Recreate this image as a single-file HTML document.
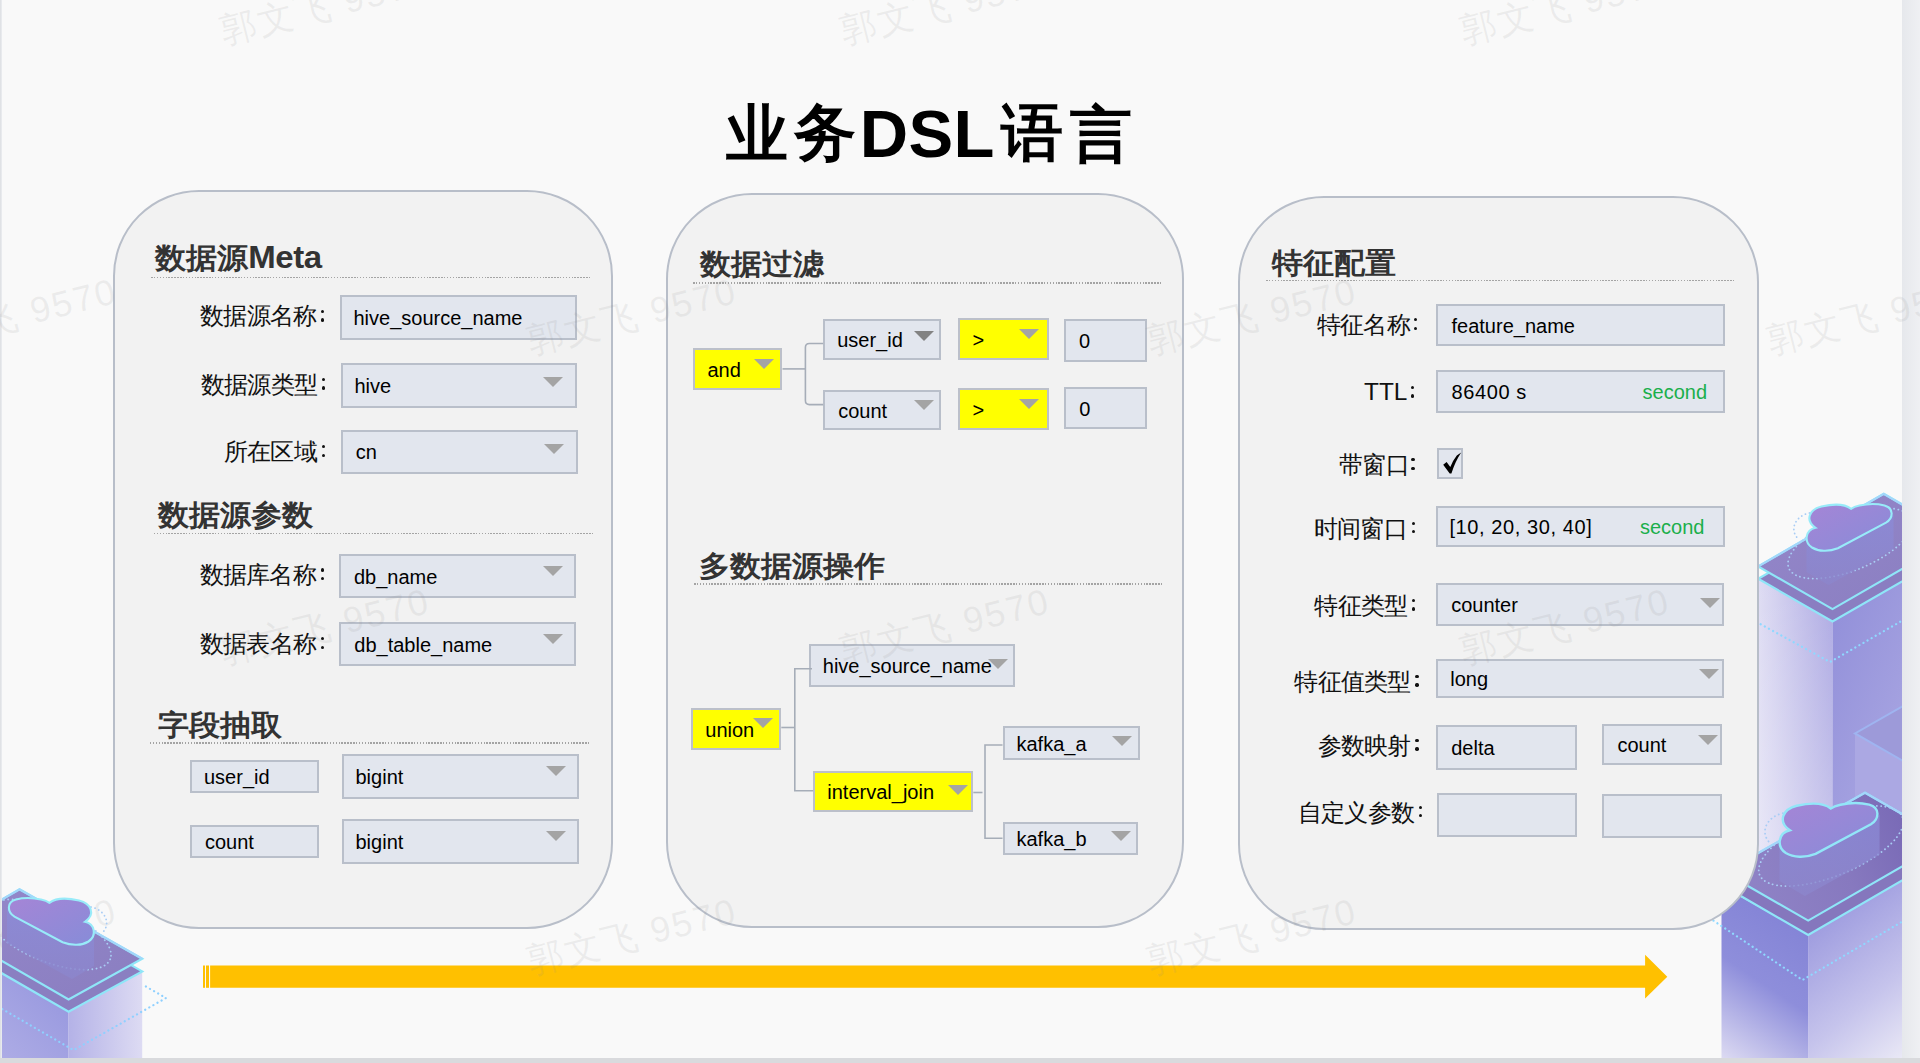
<!DOCTYPE html>
<html><head><meta charset="utf-8"><title>业务DSL语言</title>
<style>
*{margin:0;padding:0;box-sizing:border-box}
html,body{width:1920px;height:1063px;overflow:hidden;background:#f9f9f9}
body{position:relative;font-family:"Liberation Sans",sans-serif;color:#000}
.a{position:absolute}
.t{position:absolute;line-height:1;white-space:nowrap}
.pn{position:absolute;background:#f2f2f2;border:2px solid #b8bec9;border-radius:86px}
.dl{position:absolute;height:1.5px;background:repeating-linear-gradient(90deg,#a4a4a4 0 1.5px,transparent 1.5px 2.9px)}
.bx{position:absolute;background:#e2e6ee;border:2px solid #b9bfca}
.bx.y{background:#ffff00;border-color:#bcc0ca}
.tr{position:absolute;width:0;height:0;border-left:10.2px solid transparent;border-right:10.2px solid transparent;border-top:10.6px solid #a4a4a4}
.cd{position:absolute;width:3.4px;height:3.4px;border-radius:50%;background:#111}
.wm{position:absolute;font-size:36px;line-height:1;font-weight:300;letter-spacing:2px;color:rgba(140,140,140,0.12);white-space:nowrap;transform:rotate(-14deg);transform-origin:18px 50%}
</style></head><body>

<div class="a" style="left:0;top:0;width:2px;height:1063px;background:linear-gradient(90deg,#dcdee2,#eceef1)"></div>
<div class="a" style="left:0;top:0;width:1920px;height:1063px;overflow:hidden;pointer-events:none">
<div class="wm" style="left:-92.4px;top:940.0px">郭文飞 9570</div>
<div class="wm" style="left:1767.6px;top:940.0px">郭文飞 9570</div>
</div><svg class="a" style="left:0;top:0" width="1920" height="1063" viewBox="0 0 1920 1063">
<defs>
<linearGradient id="slabG" x1="0" y1="0" x2="1" y2="1"><stop offset="0" stop-color="#9487ca"/><stop offset="1" stop-color="#8a7ec0"/></linearGradient>
<linearGradient id="cloudG" x1="0" y1="0" x2="1" y2="1"><stop offset="0" stop-color="#a585d6"/><stop offset="1" stop-color="#878cd8"/></linearGradient>
<linearGradient id="cloudGR" x1="1" y1="0" x2="0" y2="1"><stop offset="0" stop-color="#a585d6"/><stop offset="1" stop-color="#878cd8"/></linearGradient>
<linearGradient id="extG" x1="0" y1="0" x2="0" y2="1"><stop offset="0" stop-color="#8b8bd8"/><stop offset="1" stop-color="#8c86cc"/></linearGradient>
<linearGradient id="lLeft" x1="1" y1="0" x2="0" y2="1"><stop offset="0" stop-color="#8f90dc"/><stop offset="1" stop-color="#b6b4e8"/></linearGradient>
<linearGradient id="lRight" x1="0" y1="0" x2="1" y2="0"><stop offset="0" stop-color="#b4b2e7"/><stop offset="1" stop-color="#dddbf3"/></linearGradient>
<linearGradient id="t1Left" x1="0" y1="0" x2="1" y2="0"><stop offset="0" stop-color="#dedcf3"/><stop offset="1" stop-color="#aeaae3"/></linearGradient>
<linearGradient id="t1LeftV" x1="0" y1="0" x2="0" y2="1"><stop offset="0" stop-color="#ffffff" stop-opacity="0"/><stop offset="1" stop-color="#ffffff" stop-opacity="0.55"/></linearGradient>
<linearGradient id="t1Right" x1="0" y1="0" x2="0.6" y2="1"><stop offset="0" stop-color="#8e8cd8"/><stop offset="1" stop-color="#bdb9e9"/></linearGradient>
<linearGradient id="t2Left" gradientUnits="userSpaceOnUse" x1="1808" y1="930" x2="1722" y2="1058"><stop offset="0" stop-color="#8484d6"/><stop offset="0.45" stop-color="#8e8edb"/><stop offset="1" stop-color="#dcdaf2"/></linearGradient><linearGradient id="slabT2" gradientUnits="userSpaceOnUse" x1="1740" y1="880" x2="1900" y2="820"><stop offset="0" stop-color="#8f83c6"/><stop offset="0.6" stop-color="#8779bf"/><stop offset="1" stop-color="#7a6bb7"/></linearGradient>
<linearGradient id="t2Right" gradientUnits="userSpaceOnUse" x1="1808" y1="940" x2="1905" y2="1060"><stop offset="0" stop-color="#a19fe0"/><stop offset="0.55" stop-color="#c6c4ec"/><stop offset="1" stop-color="#ebeaf6"/></linearGradient>
<clipPath id="clipL"><rect x="2" y="0" width="300" height="1058"/></clipPath>
<clipPath id="clipR"><rect x="1600" y="0" width="302" height="1058"/></clipPath>

</defs>
<g clip-path="url(#clipL)">
  <!-- body -->
  <polygon points="-51.4,942.6 68.6,1011.8 68.6,1060 -51.4,1060" fill="url(#lLeft)"/>
  <polygon points="68.6,1011.2 142.2,971.4 142.2,1060 68.6,1060" fill="url(#lRight)"/>
  <!-- dotted diamond on body -->
  <polyline points="-10,1002 73.6,1050.1 166,998 145,986" fill="none" stroke="#8fd0ff" stroke-width="2.2" stroke-dasharray="0.1 4.6" stroke-linecap="round"/>
  <!-- slab 2 -->
  <polygon points="19.5,901.7 142.2,971.4 68.6,1011.8 -51.4,942.6" fill="#8a7fc1" stroke="#8fe6f8" stroke-width="2.2"/>
  <!-- slab 1 -->
  <polygon points="19.5,889.3 142.2,958.7 68.6,999.4 -51.4,930.2" fill="url(#slabG)" stroke="#8fe6f8" stroke-width="2.2"/>
  <path d="M-51.4 930.2 L19.5 889.3 L142.2 958.7" fill="none" stroke="#a3d6fb" stroke-width="2"/>
  <!-- dotted ellipse on slab -->
  <ellipse cx="49" cy="934.5" rx="66" ry="27" transform="rotate(22 49 934.5)" fill="none" stroke="#a9cdf5" stroke-width="1.8" stroke-dasharray="0.1 4.2" stroke-linecap="round"/>
  <!-- cloud extrusion -->
  <path d="M7 908 L14.5 916.6 L62.6 942.3 C72 946 82 945.5 88.5 941.5 L94 934 L94 966 L72 979 L7 943 Z" fill="url(#extG)" opacity="0.8"/>
  <!-- small dotted circle beside cloud -->
  <path d="M91 907 C106 910 112 925 101 934" fill="none" stroke="#a9cdf5" stroke-width="1.8" stroke-dasharray="0.1 4" stroke-linecap="round"/>
  <!-- cloud top -->
  <path d="M14.5 916.6 C7 912 6.5 902 16 899.5 C24 897.5 34 898 41 899.6 C45 900.5 47.5 901.5 49.4 902.8 C55 898.5 66 897.5 79 900.5 C91 903.5 96 914 85 921.8 C95 924 97 936 88.5 941.5 C82 945.5 72 946 62.6 942.3 Z" fill="url(#cloudG)" stroke="#98ebf9" stroke-width="2.1"/>
</g>
<g clip-path="url(#clipR)">
  <!-- T1 body -->
  <polygon points="1759,578.9 1832.5,621.5 1832.5,1060 1759,1060" fill="url(#t1Left)"/>
  <polygon points="1759,578.9 1832.5,621.5 1832.5,1060 1759,1060" fill="url(#t1LeftV)"/>
  <polygon points="1832.5,621.5 1960,548 1960,1060 1832.5,1060" fill="url(#t1Right)"/>
  <!-- small cube -->
  <polygon points="1855,733.4 1905,704.5 1905,1060 1855,1060" fill="#aba8e3"/>
  <polygon points="1855,733.4 1905,704.5 1905,762 " fill="#9d9ad9"/>
  <path d="M1905 705 L1855 733.4 L1905 762" fill="none" stroke="#9fb4f0" stroke-width="2"/>
  <!-- dotted V on T1 -->
  <polyline points="1740,613 1830,662 1905,619" fill="none" stroke="#8fd8ff" stroke-width="2.2" stroke-dasharray="0.1 4.6" stroke-linecap="round"/>
  <!-- T1 slab 2 -->
  <polygon points="1883.7,506.2 1958,549.1 1832.5,621.5 1758.2,578.8" fill="#8a7ec1" stroke="#8fe6f8" stroke-width="2.2"/>
  <!-- T1 slab 1 -->
  <polygon points="1883.7,493.8 1958,536.7 1832.5,609.1 1758.2,566.4" fill="url(#slabG)" stroke="#8fe6f8" stroke-width="2.2"/>
  <path d="M1758.2 566.4 L1883.7 493.8 L1958 536.7" fill="none" stroke="#a3d6fb" stroke-width="2"/>
  <ellipse cx="1850" cy="543.4" rx="66" ry="27" transform="rotate(-22 1850 543.4)" fill="none" stroke="#a9cdf5" stroke-width="1.8" stroke-dasharray="0.1 4.2" stroke-linecap="round"/>
  <g transform="translate(1900.5,-394) scale(-1,1)">
    <path d="M7 908 L14.5 916.6 L62.6 942.3 C72 946 82 945.5 88.5 941.5 L94 934 L94 966 L72 979 L7 943 Z" fill="url(#extG)" opacity="0.75"/>
    <path d="M91 907 C106 910 112 925 101 934" fill="none" stroke="#a9cdf5" stroke-width="1.8" stroke-dasharray="0.1 4" stroke-linecap="round"/>
    <path d="M14.5 916.6 C7 912 6.5 902 16 899.5 C24 897.5 34 898 41 899.6 C45 900.5 47.5 901.5 49.4 902.8 C55 898.5 66 897.5 79 900.5 C91 903.5 96 914 85 921.8 C95 924 97 936 88.5 941.5 C82 945.5 72 946 62.6 942.3 Z" fill="url(#cloudGR)" stroke="#98ebf9" stroke-width="2.1"/>
  </g>
  <!-- T2 body -->
  <polygon points="1721.5,886 1808.2,935 1808.2,1060 1721.5,1060" fill="url(#t2Left)"/>
  <polygon points="1808.2,935 1960,847 1960,1060 1808.2,1060" fill="url(#t2Right)"/>
  <polyline points="1690,905 1802.5,980 1905,920" fill="none" stroke="#8fd8ff" stroke-width="2.2" stroke-dasharray="0.1 4.6" stroke-linecap="round"/>
  <!-- T2 slab 2 -->
  <polygon points="1865,806.7 1947.5,854.2 1808.2,935 1724,886.3" fill="#8577bd" stroke="#8fe6f8" stroke-width="2.2"/>
  <!-- T2 slab 1 -->
  <polygon points="1865,792.7 1947.5,840.2 1808.2,920.6 1724,872.3" fill="url(#slabT2)" stroke="#8fe6f8" stroke-width="2.2"/>
  <path d="M1724 872.3 L1865 792.7 L1947.5 840.2" fill="none" stroke="#a3d6fb" stroke-width="2"/>
  <ellipse cx="1831" cy="846" rx="77" ry="30" transform="rotate(-22 1831 846)" fill="none" stroke="#a9cdf5" stroke-width="1.8" stroke-dasharray="0.1 4.2" stroke-linecap="round"/>
  <g transform="translate(1887.6,-229.8) scale(-1.15,1.15)">
    <path d="M7 908 L14.5 916.6 L62.6 942.3 C72 946 82 945.5 88.5 941.5 L94 934 L94 966 L72 979 L7 943 Z" fill="url(#extG)" opacity="0.75"/>
    <path d="M91 907 C106 910 112 925 101 934" fill="none" stroke="#a9cdf5" stroke-width="1.6" stroke-dasharray="0.1 3.6" stroke-linecap="round"/>
    <path d="M14.5 916.6 C7 912 6.5 902 16 899.5 C24 897.5 34 898 41 899.6 C45 900.5 47.5 901.5 49.4 902.8 C55 898.5 66 897.5 79 900.5 C91 903.5 96 914 85 921.8 C95 924 97 936 88.5 941.5 C82 945.5 72 946 62.6 942.3 Z" fill="url(#cloudGR)" stroke="#92e6f8" stroke-width="2.1"/>
  </g>
</g>
</svg>

<div class="a" style="left:1902px;top:0;width:18px;height:1063px;background:linear-gradient(90deg,#e6e8ec,#eff0f3)"></div>
<div class="a" style="left:0;top:1058px;width:1920px;height:5px;background:#d9dadd"></div>
<div class="pn" style="left:113.30px;top:189.50px;width:500.20px;height:739.00px"></div>
<div class="pn" style="left:665.50px;top:193.40px;width:518.60px;height:735.10px"></div>
<div class="pn" style="left:1238.20px;top:195.50px;width:520.80px;height:734.90px"></div>
<div class="dl" style="left:151.0px;top:276.5px;width:439.0px"></div>
<div class="dl" style="left:154.0px;top:532.5px;width:438.5px"></div>
<div class="dl" style="left:150.0px;top:742.2px;width:439.0px"></div>
<div class="dl" style="left:693.4px;top:282.0px;width:469.1px"></div>
<div class="dl" style="left:693.5px;top:583.1px;width:469.2px"></div>
<div class="dl" style="left:1265.6px;top:279.5px;width:470.3px"></div>
<div class="bx" style="left:340.3px;top:295.4px;width:236.4px;height:44.4px"></div>
<div class="bx" style="left:340.7px;top:363.4px;width:236.3px;height:44.6px"></div>
<div class="tr" style="left:543.20px;top:376.90px"></div>
<div class="bx" style="left:341.3px;top:429.6px;width:236.3px;height:44.6px"></div>
<div class="tr" style="left:544.00px;top:444.10px"></div>
<div class="bx" style="left:339.0px;top:554.0px;width:236.8px;height:44.0px"></div>
<div class="tr" style="left:542.50px;top:566.00px"></div>
<div class="bx" style="left:339.0px;top:622.0px;width:237.0px;height:44.0px"></div>
<div class="tr" style="left:543.00px;top:633.75px"></div>
<div class="bx" style="left:190.0px;top:760.0px;width:129.0px;height:32.5px"></div>
<div class="bx" style="left:342.0px;top:754.0px;width:237.0px;height:44.5px"></div>
<div class="tr" style="left:545.50px;top:765.75px"></div>
<div class="bx" style="left:190.0px;top:825.0px;width:129.0px;height:33.0px"></div>
<div class="bx" style="left:342.0px;top:819.0px;width:237.0px;height:44.5px"></div>
<div class="tr" style="left:545.50px;top:830.75px"></div>
<div class="bx y" style="left:692.8px;top:348.1px;width:89.7px;height:42.0px"></div>
<div class="tr" style="left:753.60px;top:359.00px"></div>
<div class="bx" style="left:823.2px;top:319.4px;width:118.3px;height:40.8px"></div>
<div class="tr" style="left:913.80px;top:330.60px;border-top-color:#838383"></div>
<div class="bx y" style="left:958.1px;top:317.6px;width:90.6px;height:42.8px"></div>
<div class="tr" style="left:1019.00px;top:328.90px"></div>
<div class="bx" style="left:1063.9px;top:319.3px;width:83.1px;height:42.5px"></div>
<div class="bx" style="left:823.2px;top:390.1px;width:118.3px;height:40.4px"></div>
<div class="tr" style="left:913.80px;top:400.30px"></div>
<div class="bx y" style="left:958.1px;top:388.2px;width:90.6px;height:42.3px"></div>
<div class="tr" style="left:1019.00px;top:398.50px"></div>
<div class="bx" style="left:1064.2px;top:387.1px;width:83.3px;height:42.3px"></div>
<div class="bx y" style="left:691.3px;top:708.3px;width:90.0px;height:41.7px"></div>
<div class="tr" style="left:752.50px;top:718.00px"></div>
<div class="bx" style="left:808.8px;top:644.3px;width:206.2px;height:43.2px"></div>
<div class="tr" style="left:987.50px;top:658.75px"></div>
<div class="bx y" style="left:813.3px;top:770.5px;width:160.0px;height:41.5px"></div>
<div class="tr" style="left:947.50px;top:784.50px"></div>
<div class="bx" style="left:1002.5px;top:726.3px;width:137.0px;height:33.7px"></div>
<div class="tr" style="left:1111.75px;top:735.75px"></div>
<div class="bx" style="left:1002.5px;top:821.8px;width:135.5px;height:33.7px"></div>
<div class="tr" style="left:1110.50px;top:831.25px"></div>
<div class="bx" style="left:1436.2px;top:304.0px;width:289.1px;height:42.2px"></div>
<div class="bx" style="left:1436.2px;top:370.3px;width:289.1px;height:42.7px"></div>
<div class="bx" style="left:1437.2px;top:448.2px;width:25.8px;height:30.5px"></div>
<div class="bx" style="left:1436.2px;top:506.3px;width:289.1px;height:40.4px"></div>
<div class="bx" style="left:1436.2px;top:583.2px;width:287.8px;height:42.7px"></div>
<div class="tr" style="left:1699.70px;top:597.70px"></div>
<div class="bx" style="left:1436.2px;top:658.8px;width:287.8px;height:39.0px"></div>
<div class="tr" style="left:1699.00px;top:668.80px"></div>
<div class="bx" style="left:1436.2px;top:725.4px;width:140.7px;height:44.3px"></div>
<div class="bx" style="left:1602.0px;top:724.1px;width:120.3px;height:40.9px"></div>
<div class="tr" style="left:1697.60px;top:734.70px"></div>
<div class="bx" style="left:1436.8px;top:793.2px;width:140.6px;height:44.2px"></div>
<div class="bx" style="left:1602.0px;top:794.0px;width:120.3px;height:44.2px"></div>
<div class="t" style="left:725.8px;top:103.2px;font-size:61.5px;font-weight:bold;color:#000;">业</div>
<div class="t" style="left:793.5px;top:101.6px;font-size:61.5px;font-weight:bold;color:#000;">务</div>
<div class="t" style="left:859.8px;top:100.0px;font-size:67px;font-weight:bold;color:#000;letter-spacing:0.3px">DSL</div>
<div class="t" style="left:1001.2px;top:102.3px;font-size:61.5px;font-weight:bold;color:#000;">语</div>
<div class="t" style="left:1069.6px;top:104.3px;font-size:61.5px;font-weight:bold;color:#000;">言</div>
<div class="t" style="left:155.2px;top:241.5px;font-size:31px;font-weight:bold;color:#333;transform:scaleY(0.935);transform-origin:0 0;">数据源<span style='font-size:33px;letter-spacing:-0.4px'>Meta</span></div>
<div class="t" style="left:158.0px;top:501.0px;font-size:31px;font-weight:bold;color:#333;transform:scaleY(0.935);transform-origin:0 0;">数据源参数</div>
<div class="t" style="left:158.0px;top:711.0px;font-size:31px;font-weight:bold;color:#333;transform:scaleY(0.935);transform-origin:0 0;">字段抽取</div>
<div class="t" style="left:700.0px;top:250.0px;font-size:31px;font-weight:bold;color:#333;transform:scaleY(0.935);transform-origin:0 0;">数据过滤</div>
<div class="t" style="left:699.0px;top:551.5px;font-size:31px;font-weight:bold;color:#333;transform:scaleY(0.935);transform-origin:0 0;">多数据源操作</div>
<div class="t" style="left:1272.0px;top:249.3px;font-size:31px;font-weight:bold;color:#333;transform:scaleY(0.935);transform-origin:0 0;">特征配置</div>
<div class="t" style="left:200.0px;top:303.8px;font-size:24px;color:#111;letter-spacing:-0.7px;">数据源名称</div>
<div class="t" style="left:200.8px;top:373.0px;font-size:24px;color:#111;letter-spacing:-0.7px;">数据源类型</div>
<div class="t" style="left:223.8px;top:440.0px;font-size:24px;color:#111;letter-spacing:-0.7px;">所在区域</div>
<div class="t" style="left:199.5px;top:563.3px;font-size:24px;color:#111;letter-spacing:-0.7px;">数据库名称</div>
<div class="t" style="left:199.8px;top:632.1px;font-size:24px;color:#111;letter-spacing:-0.7px;">数据表名称</div>
<div class="t" style="left:1316.9px;top:313.3px;font-size:24px;color:#111;letter-spacing:-0.7px;">特征名称</div>
<div class="t" style="left:1364.0px;top:380.3px;font-size:24.4px;color:#111;">TTL</div>
<div class="t" style="left:1339.0px;top:453.4px;font-size:24px;color:#111;letter-spacing:-0.7px;">带窗口</div>
<div class="t" style="left:1313.8px;top:516.7px;font-size:24px;color:#111;letter-spacing:-0.7px;">时间窗口</div>
<div class="t" style="left:1314.3px;top:593.7px;font-size:24px;color:#111;letter-spacing:-0.7px;">特征类型</div>
<div class="t" style="left:1294.3px;top:670.4px;font-size:24px;color:#111;letter-spacing:-0.7px;">特征值类型</div>
<div class="t" style="left:1317.6px;top:734.3px;font-size:24px;color:#111;letter-spacing:-0.7px;">参数映射</div>
<div class="t" style="left:1297.7px;top:800.7px;font-size:24px;color:#111;letter-spacing:-0.7px;">自定义参数</div>
<div class="t" style="left:353.5px;top:308.1px;font-size:20px;color:#000;">hive_source_name</div>
<div class="t" style="left:354.4px;top:376.2px;font-size:20px;color:#000;">hive</div>
<div class="t" style="left:355.8px;top:442.4px;font-size:20px;color:#000;">cn</div>
<div class="t" style="left:354.0px;top:566.5px;font-size:20px;color:#000;">db_name</div>
<div class="t" style="left:354.3px;top:634.5px;font-size:20px;color:#000;">db_table_name</div>
<div class="t" style="left:204.0px;top:766.8px;font-size:20px;color:#000;">user_id</div>
<div class="t" style="left:355.5px;top:766.8px;font-size:20px;color:#000;">bigint</div>
<div class="t" style="left:205.0px;top:832.0px;font-size:20px;color:#000;">count</div>
<div class="t" style="left:355.5px;top:831.8px;font-size:20px;color:#000;">bigint</div>
<div class="t" style="left:707.4px;top:359.6px;font-size:20px;color:#000;">and</div>
<div class="t" style="left:837.2px;top:330.3px;font-size:20px;color:#000;">user_id</div>
<div class="t" style="left:972.4px;top:329.5px;font-size:20px;color:#000;">&gt;</div>
<div class="t" style="left:1079.0px;top:331.1px;font-size:20px;color:#000;">0</div>
<div class="t" style="left:838.2px;top:400.8px;font-size:20px;color:#000;">count</div>
<div class="t" style="left:972.4px;top:399.9px;font-size:20px;color:#000;">&gt;</div>
<div class="t" style="left:1079.3px;top:398.8px;font-size:20px;color:#000;">0</div>
<div class="t" style="left:705.3px;top:719.6px;font-size:20px;color:#000;">union</div>
<div class="t" style="left:822.8px;top:656.4px;font-size:20px;color:#000;">hive_source_name</div>
<div class="t" style="left:827.3px;top:781.8px;font-size:20px;color:#000;">interval_join</div>
<div class="t" style="left:1016.5px;top:733.6px;font-size:20px;color:#000;">kafka_a</div>
<div class="t" style="left:1016.5px;top:829.1px;font-size:20px;color:#000;">kafka_b</div>
<div class="t" style="left:1451.5px;top:315.6px;font-size:20px;color:#000;">feature_name</div>
<div class="t" style="left:1451.5px;top:382.1px;font-size:20px;color:#000;letter-spacing:0.6px;">86400 s</div>
<div class="t" style="left:1449.4px;top:517.0px;font-size:20px;color:#000;letter-spacing:0.6px;">[10, 20, 30, 40]</div>
<div class="t" style="left:1451.2px;top:595.0px;font-size:20px;color:#000;">counter</div>
<div class="t" style="left:1450.2px;top:668.8px;font-size:20px;color:#000;">long</div>
<div class="t" style="left:1451.2px;top:738.0px;font-size:20px;color:#000;">delta</div>
<div class="t" style="left:1617.5px;top:735.0px;font-size:20px;color:#000;">count</div>
<div class="t" style="left:1642.6px;top:382.1px;font-size:20px;color:#1aaf4b">second</div>
<div class="t" style="left:1640.0px;top:517.0px;font-size:20px;color:#1aaf4b">second</div>
<div class="cd" style="left:321.0px;top:309.8px"></div><div class="cd" style="left:321.0px;top:318.4px"></div>
<div class="cd" style="left:321.8px;top:377.8px"></div><div class="cd" style="left:321.8px;top:386.4px"></div>
<div class="cd" style="left:322.0px;top:444.9px"></div><div class="cd" style="left:322.0px;top:453.5px"></div>
<div class="cd" style="left:320.6px;top:568.4px"></div><div class="cd" style="left:320.6px;top:577.0px"></div>
<div class="cd" style="left:320.6px;top:637.0px"></div><div class="cd" style="left:320.6px;top:645.5px"></div>
<div class="cd" style="left:1414.0px;top:318.1px"></div><div class="cd" style="left:1414.0px;top:326.8px"></div>
<div class="cd" style="left:1410.6px;top:385.8px"></div><div class="cd" style="left:1410.6px;top:394.4px"></div>
<div class="cd" style="left:1411.3px;top:458.0px"></div><div class="cd" style="left:1411.3px;top:466.6px"></div>
<div class="cd" style="left:1411.7px;top:521.5px"></div><div class="cd" style="left:1411.7px;top:530.1px"></div>
<div class="cd" style="left:1412.0px;top:598.7px"></div><div class="cd" style="left:1412.0px;top:607.3px"></div>
<div class="cd" style="left:1415.3px;top:674.8px"></div><div class="cd" style="left:1415.3px;top:683.4px"></div>
<div class="cd" style="left:1415.3px;top:738.8px"></div><div class="cd" style="left:1415.3px;top:747.4px"></div>
<div class="cd" style="left:1418.5px;top:805.5px"></div><div class="cd" style="left:1418.5px;top:814.1px"></div>
<svg class="a" style="left:0;top:0" width="1920" height="1063" viewBox="0 0 1920 1063"><path d="M1443.2 464.8 L1446.6 462 L1450.3 467 Q1452.8 460.5 1456.8 455.5 L1461.2 452.6 Q1455.5 461 1451.4 473.4 L1449.7 473.4 Z" fill="#000"/></svg>
<svg class="a" style="left:0;top:0" width="1920" height="1063" viewBox="0 0 1920 1063"><g fill="none" stroke="#a6adb8" stroke-width="1.6"><path d="M782.5 368.9 H805.4"/><path d="M823.2 343.5 H809.4 Q805.4 343.5 805.4 347.5 V400.6 Q805.4 404.6 809.4 404.6 H823.2"/><path d="M781.3 727.5 H794.8"/><path d="M812 668.8 H794.8 V790.8 H813.3"/><path d="M973.3 792.5 H982.5"/><path d="M1002.5 745 H985 V838.3 H1002.5"/></g></svg>
<svg class="a" style="left:0;top:0" width="1920" height="1063" viewBox="0 0 1920 1063"><g fill="#ffc000"><rect x="203" y="965.5" width="2" height="22.3"/><rect x="206" y="965.5" width="3" height="22.3"/><path d="M210.1 965.5 H1645.1 V954.8 L1667.3 976.7 L1645.1 998.5 V987.8 H210.1 Z"/></g></svg>
<div class="a" style="left:0;top:0;width:1920px;height:1063px;overflow:hidden;pointer-events:none">
<div class="wm" style="left:221.3px;top:10.3px">郭文飞 9570</div>
<div class="wm" style="left:841.3px;top:10.3px">郭文飞 9570</div>
<div class="wm" style="left:1461.3px;top:10.3px">郭文飞 9570</div>
<div class="wm" style="left:-92.4px;top:320.0px">郭文飞 9570</div>
<div class="wm" style="left:527.6px;top:320.0px">郭文飞 9570</div>
<div class="wm" style="left:1147.6px;top:320.0px">郭文飞 9570</div>
<div class="wm" style="left:1767.6px;top:320.0px">郭文飞 9570</div>
<div class="wm" style="left:221.3px;top:630.0px">郭文飞 9570</div>
<div class="wm" style="left:841.3px;top:630.0px">郭文飞 9570</div>
<div class="wm" style="left:1461.3px;top:630.0px">郭文飞 9570</div>
<div class="wm" style="left:527.6px;top:940.0px">郭文飞 9570</div>
<div class="wm" style="left:1147.6px;top:940.0px">郭文飞 9570</div>
</div>
</body></html>
